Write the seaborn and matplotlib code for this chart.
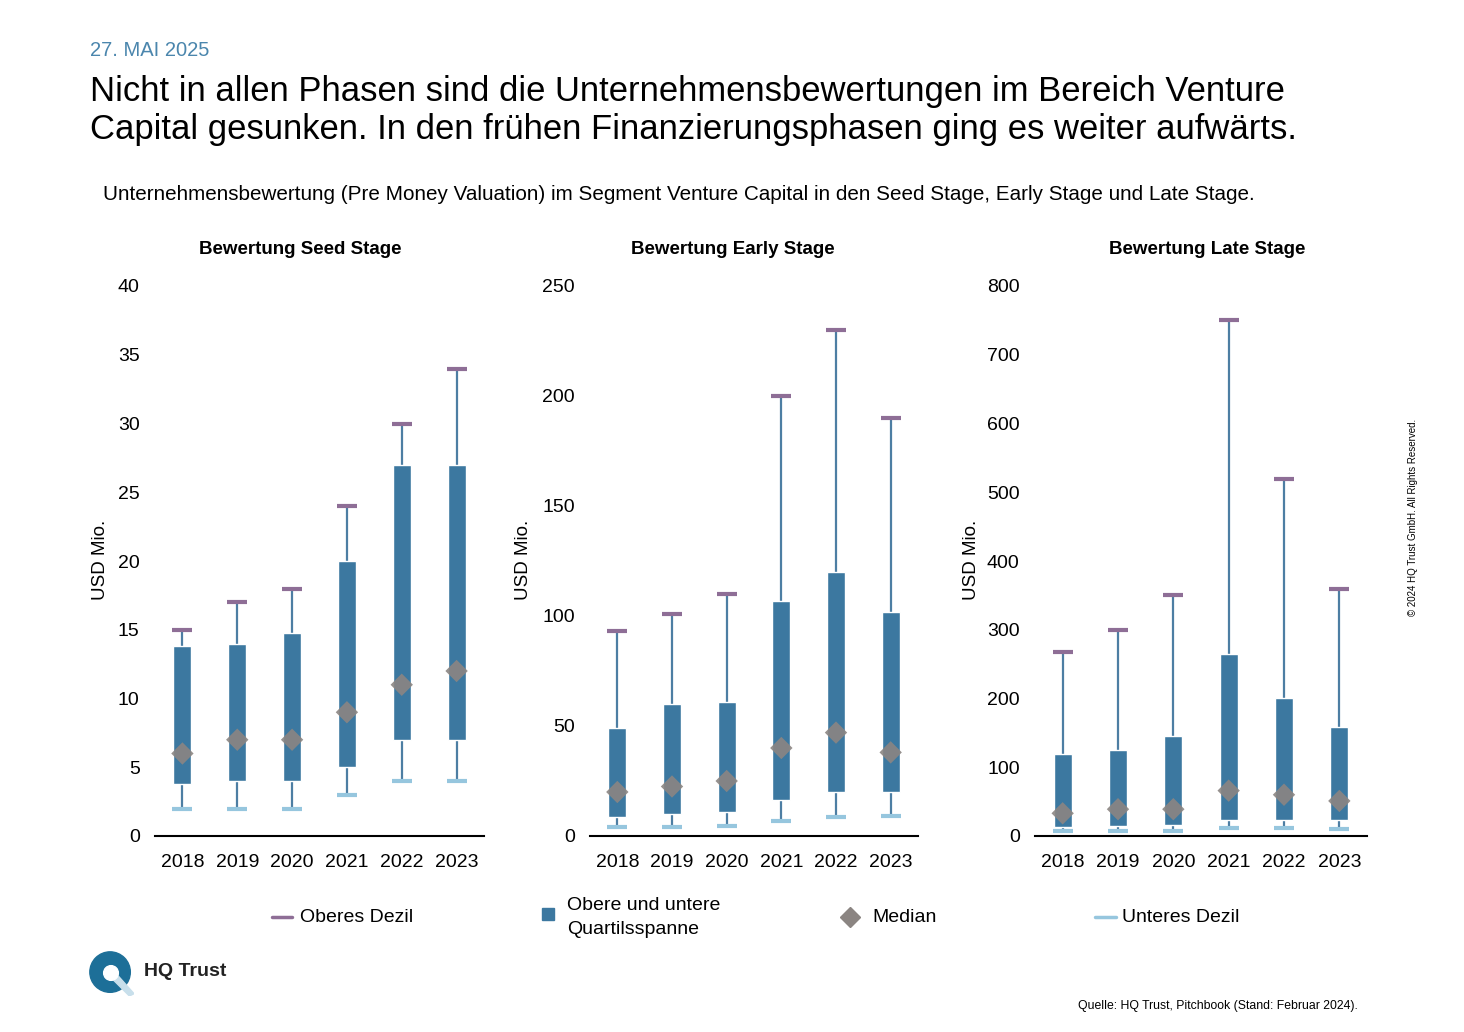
import numpy as np
import pandas as pd
import matplotlib
matplotlib.use("Agg")
import matplotlib.pyplot as plt
import seaborn as sns
from matplotlib.lines import Line2D
from matplotlib.patches import Circle, Rectangle, Polygon

# ---- data (USD Mio.) ----
years = ["2018", "2019", "2020", "2021", "2022", "2023"]

seed_upper = [15, 17, 18, 24, 30, 34]
seed_q3 = [13.8, 14, 14.8, 20, 27, 27]
seed_q1 = [3.8, 4, 4, 5, 7, 7]
seed_median = [6, 7, 7, 9, 11, 12]
seed_lower = [2, 2, 2, 3, 4, 4]

early_upper = [93, 101, 110, 200, 230, 190]
early_q3 = [49, 60, 61, 107, 120, 102]
early_q1 = [8.5, 10, 11, 16.5, 20, 20]
early_median = [20, 22.5, 25, 40, 47, 38]
early_lower = [4, 4, 4.5, 7, 8.5, 9]

late_upper = [267, 300, 350, 750, 520, 360]
late_q3 = [119, 125, 146, 265, 201, 159]
late_q1 = [13, 15, 16, 24, 24, 23]
late_median = [33, 39, 39, 66, 60, 51]
late_lower = [7, 7, 7, 12, 12, 10]

titles = ["Bewertung Seed Stage", "Bewertung Early Stage", "Bewertung Late Stage"]
ylims = [40, 250, 800]
yticks = [np.arange(0, 41, 5), np.arange(0, 251, 50), np.arange(0, 801, 100)]

BOX = "#3c78a0"
WHISK = "#4d7ea3"
UPPER = "#8e6e96"
LOWER = "#96c6de"
MED = "#8b8582"

sns.set_theme(style="white")
plt.rcParams["font.family"] = ["Liberation Sans", "DejaVu Sans"]
plt.rcParams["text.color"] = "black"

W, H = 1464, 1032
fig = plt.figure(figsize=(W / 100, H / 100), dpi=100)


def fx(px):
    return px / W


def fy(py):
    return 1 - py / H


# axis left, axis right, title centre, ylabel x
panels = [
    (155, 484, 300, 100, seed_upper, seed_q3, seed_q1, seed_median, seed_lower),
    (590, 918, 733, 524, early_upper, early_q3, early_q1, early_median, early_lower),
    (1035, 1367, 1207, 972, late_upper, late_q3, late_q1, late_median, late_lower),
]

for i, (x0, x1, tc, yl, up, q3, q1, med, lo) in enumerate(panels):
    ax = fig.add_axes([fx(x0), fy(836), fx(x1 - x0), fy(286) - fy(836)])
    df = pd.DataFrame({"pos": np.arange(len(years)), "upper": up, "q3": q3,
                       "q1": q1, "median": med, "lower": lo})
    # whisker from lower to upper decile
    ax.vlines(df["pos"], df["lower"], df["upper"], color=WHISK, lw=1.6, zorder=1)
    # interquartile box
    ax.bar(df["pos"], df["q3"] - df["q1"], bottom=df["q1"], width=0.33,
           color=BOX, zorder=2)
    # decile caps
    sns.scatterplot(data=df, x="pos", y="upper", marker="_", s=190,
                    color=UPPER, linewidth=3, ax=ax, zorder=3)
    sns.scatterplot(data=df, x="pos", y="lower", marker="_", s=190,
                    color=LOWER, linewidth=3, ax=ax, zorder=3)
    # median
    sns.scatterplot(data=df, x="pos", y="median", marker="D", s=130,
                    color=MED, edgecolor="none", alpha=0.9, ax=ax, zorder=4)

    ax.set_xlim(-0.5, len(years) - 0.5)
    ax.set_ylim(0, ylims[i])
    ax.set_xticks(np.arange(len(years)))
    ax.set_xticklabels(years)
    ax.set_yticks(yticks[i])
    ax.tick_params(axis="both", labelsize=14, length=0, colors="black")
    ax.tick_params(axis="y", pad=11)
    ax.tick_params(axis="x", pad=13)
    ax.set_xlabel("")
    ax.set_ylabel("")
    sns.despine(ax=ax, left=True)
    ax.spines["bottom"].set_color("black")
    ax.spines["bottom"].set_linewidth(1.5)
    ax.grid(False)

    fig.text(fx(tc), fy(249), titles[i], ha="center", va="center",
             fontsize=13.5, fontweight="bold")
    fig.text(fx(yl), fy(560), "USD Mio.", rotation=90, ha="center",
             va="center", fontsize=13.5)

# header
fig.text(fx(90), fy(50), "27. MAI 2025", color="#4b86ad", fontsize=14.5,
         ha="left", va="center")
fig.text(fx(90), fy(91), "Nicht in allen Phasen sind die Unternehmensbewertungen im Bereich Venture",
         fontsize=24.9, ha="left", va="center")
fig.text(fx(90), fy(129), "Capital gesunken. In den frühen Finanzierungsphasen ging es weiter aufwärts.",
         fontsize=24.9, ha="left", va="center")
fig.text(fx(103), fy(194),
         "Unternehmensbewertung (Pre Money Valuation) im Segment Venture Capital in den Seed Stage, Early Stage und Late Stage.",
         fontsize=14.9, ha="left", va="center")

# legend
ly = fy(917)
fig.add_artist(Line2D([fx(272), fx(292)], [ly, ly], color=UPPER, lw=2.5))
fig.text(fx(300), ly, "Oberes Dezil", fontsize=14, va="center")
fig.add_artist(Rectangle((fx(542), fy(920)), fx(12), fy(908) - fy(920), color=BOX))
fig.text(fx(567), fy(905), "Obere und untere", fontsize=14, va="center")
fig.text(fx(567), fy(929), "Quartilsspanne", fontsize=14, va="center")
fig.add_artist(Line2D([fx(850)], [ly], marker="D", markersize=10, color=MED, lw=0))
fig.text(fx(872), ly, "Median", fontsize=14, va="center")
fig.add_artist(Line2D([fx(1095), fx(1116)], [ly, ly], color=LOWER, lw=2.5))
fig.text(fx(1122), ly, "Unteres Dezil", fontsize=14, va="center")

# logo
lax = fig.add_axes([fx(88), fy(996), fx(46), fy(950) - fy(996)])
lax.set_xlim(0, 1)
lax.set_ylim(0, 1)
lax.set_aspect("equal")
lax.axis("off")
lax.add_patch(Circle((0.48, 0.52), 0.44, color="#1d6f98"))
lax.add_patch(Polygon([[0.45, 0.45], [0.9, 0.0], [1.0, 0.05], [0.6, 0.5]], color="#c8dfeb"))
lax.add_patch(Circle((0.5, 0.5), 0.16, color="white"))
fig.text(fx(144), fy(972), "HQ Trust", fontsize=14, fontweight="bold", color="#222222",
         va="center")

# footer and copyright
fig.text(fx(1358), fy(1006), "Quelle: HQ Trust, Pitchbook (Stand: Februar 2024).",
         fontsize=8.8, ha="right", va="center")
fig.text(fx(1413), fy(517), "© 2024 HQ Trust GmbH. All Rights Reserved.", fontsize=7,
         rotation=90, ha="center", va="center")

fig.savefig("out.png", dpi=100)
